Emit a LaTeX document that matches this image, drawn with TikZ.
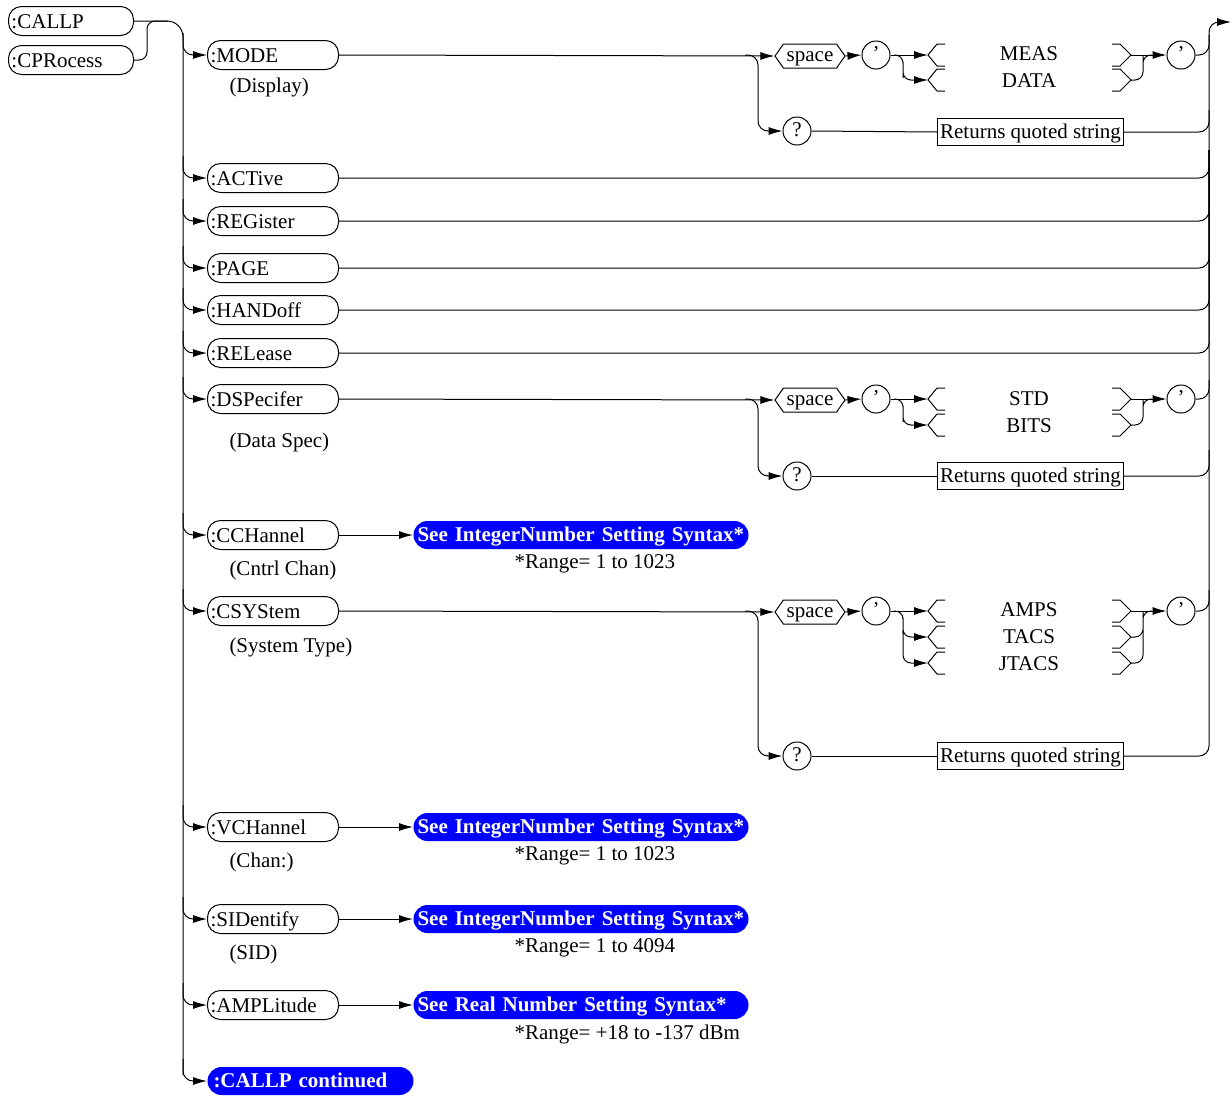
\documentclass[tikz,border=0pt]{standalone}
\usepackage{fontspec}
\setmainfont{Liberation Serif}
\usetikzlibrary{arrows.meta,shapes.symbols}
\newcommand\choiceL[2]{\draw (945,#1-11) -- (937,#1-11) -- (928,#1) -- (937,#1+11) -- (945,#1+11);\coordinate (#2) at (928,#1);}
\newcommand\choiceR[2]{\draw (1112,#1-11) -- (1120,#1-11) -- (1131,#1) -- (1120,#1+11) -- (1112,#1+11);\coordinate (#2) at (1131,#1);}
\tikzset{
 every node/.style={font=\fontsize{21}{24}\selectfont},
 cmd/.style={draw, rounded corners=13pt, minimum height=29pt, text width=125pt, align=left, inner xsep=3pt, inner ysep=0pt, text height=17pt, text depth=2pt, anchor=west},
 top/.style={cmd, text width=119pt},
 arr/.style={-{Latex[length=14pt,width=8pt]}},
 sp/.style={draw, signal, signal to=west and east, signal pointer angle=110, minimum width=70pt, minimum height=24pt, inner xsep=2pt, inner ysep=0pt, text height=14pt, text depth=3pt},
 rc/.style={draw, circle, minimum size=28pt, inner sep=0pt, text height=14pt, text depth=4pt},
 ret/.style={draw, rectangle, inner xsep=2.5pt, minimum height=27pt, inner ysep=0pt, text height=16pt, text depth=4pt},
 bluebox/.style={fill=blue, text=white, rounded corners=14pt, minimum height=28pt, text width=327pt, align=left, inner xsep=4pt, inner ysep=0pt, anchor=west, font=\fontsize{21}{24}\selectfont\bfseries, text height=16pt, text depth=3pt},
 contbox/.style={bluebox, text width=194pt, inner xsep=6pt},
 lbl/.style={anchor=west, inner sep=0pt},
 opt/.style={anchor=center, inner sep=0pt},
}
\begin{document}
\begin{tikzpicture}[x=1pt,y=-1pt,line width=1pt]
\useasboundingbox (0,0) rectangle (1232,1096);
% left commands
\node[top] (callp) at (8,21) {:CALLP};
\node[top] (cproc) at (8,60) {:CPRocess};
\draw[rounded corners=16pt] (callp.east) -| (183,1075);
\draw[rounded corners=8pt] (cproc.east) -| (147,35) |- (168,21);
% main commands
\node[cmd] (mode) at (207,55) {:MODE};
\node[cmd] (act) at (207,178) {:ACTive};
\node[cmd] (reg) at (207,221) {:REGister};
\node[cmd] (page) at (207,268) {:PAGE};
\node[cmd] (hand) at (207,310) {:HANDoff};
\node[cmd] (rel) at (207,353) {:RELease};
\node[cmd] (dsp) at (207,399) {:DSPecifer};
\node[cmd] (cch) at (207,535) {:CCHannel};
\node[cmd] (csys) at (207,611) {:CSYStem};
\node[cmd] (vch) at (207,827) {:VCHannel};
\node[cmd] (sid) at (207,919) {:SIDentify};
\node[cmd] (amp) at (207,1005) {:AMPLitude};
\node[contbox] (cont) at (207,1081) {:CALLP continued};
\foreach \n/\y in {mode/55,act/178,reg/221,page/268,hand/310,rel/353,dsp/399,cch/535,csys/611,vch/827,sid/919,amp/1005,cont/1081}
  \draw[arr, rounded corners=10pt] (183,\y-22) |- (\n.west);
% sub labels
\node[lbl] (l1) at (229,87) {(Display)};
\node[lbl] (l2) at (229,442) {(Data Spec)};
\node[lbl] (l3) at (229,570) {(Cntrl Chan)};
\node[lbl] (l4) at (229,647) {(System Type)};
\node[lbl] (l5) at (229,862) {(Chan:)};
\node[lbl] (l6) at (229,954) {(SID)};
% right bus
\coordinate (out) at (1231,22);
\node[ret] (ret3) at (1030.5,756) {Returns quoted string};
\draw[arr, rounded corners=10pt] (ret3.east) -- (1209,756) -- (1209,22) -- (out);
% simple ones
\foreach \n in {act,reg,page,hand,rel}
  \draw[rounded corners=10pt] (\n.east) -| (1209,150);
% MODE
\node[sp] (sp1) at (810,56) {space};
\node[rc] (qa1) at (876,55) {'};
\node[rc] (qb1) at (1181,55) {'};
\node[rc] (qm1) at (797,131) {?};
\node[ret] (ret1) at (1030.5,132) {Returns quoted string};
\choiceL{55}{a1}\choiceL{80}{a2}
\choiceR{55}{b1}\choiceR{80}{b2}
\node[opt] (o11) at (1029,54) {MEAS};
\node[opt] (o12) at (1029,81) {DATA};
\draw[arr] (mode.east) -- (sp1.west);
\draw[arr, rounded corners=10pt] (745,55) -| (758,90) |- (qm1.west);
\draw[arr] (sp1.east) -- (qa1.west);
\draw[arr] (qa1.east) -- (a1);
\draw[arr, rounded corners=8pt] (894,55) -| (903,70) |- (a2);
\draw[arr] (b1) -- (qb1.west);
\draw[rounded corners=8pt] (b2) -| (1143,64) |- (1152,55);
\draw[rounded corners=10pt] (qb1.east) -| (1209,35);
\draw (qm1.east) -- (ret1.west);
\draw[rounded corners=10pt] (ret1.east) -| (1209,110);
% DSPecifer
\node[sp] (sp2) at (810,400) {space};
\node[rc] (qa2) at (876,399) {'};
\node[rc] (qb2) at (1181,399) {'};
\node[rc] (qm2) at (797,476) {?};
\node[ret] (ret2) at (1030.5,476) {Returns quoted string};
\choiceL{399}{c1}\choiceL{425}{c2}
\choiceR{399}{d1}\choiceR{425}{d2}
\node[opt] (o21) at (1029,399) {STD};
\node[opt] (o22) at (1029,426) {BITS};
\draw[arr] (dsp.east) -- (sp2.west);
\draw[arr, rounded corners=10pt] (745,399) -| (758,440) |- (qm2.west);
\draw[arr] (sp2.east) -- (qa2.west);
\draw[arr] (qa2.east) -- (c1);
\draw[arr, rounded corners=8pt] (894,399) -| (903,414) |- (c2);
\draw[arr] (d1) -- (qb2.west);
\draw[rounded corners=8pt] (d2) -| (1143,408) |- (1152,399);
\draw[rounded corners=10pt] (qb2.east) -| (1209,380);
\draw (qm2.east) -- (ret2.west);
\draw[rounded corners=10pt] (ret2.east) -| (1209,450);
% CSYStem
\node[sp] (sp3) at (810,612) {space};
\node[rc] (qa3) at (876,611) {'};
\node[rc] (qb3) at (1181,611) {'};
\node[rc] (qm3) at (797,756) {?};
\choiceL{611}{e1}\choiceL{637}{e2}\choiceL{663}{e3}
\choiceR{611}{f1}\choiceR{637}{f2}\choiceR{663}{f3}
\node[opt] (o31) at (1029,610) {AMPS};
\node[opt] (o32) at (1029,637) {TACS};
\node[opt] (o33) at (1029,664) {JTACS};
\draw[arr] (csys.east) -- (sp3.west);
\draw[arr, rounded corners=10pt] (745,611) -| (758,700) |- (qm3.west);
\draw[arr] (sp3.east) -- (qa3.west);
\draw[arr] (qa3.east) -- (e1);
\draw[arr, rounded corners=8pt] (894,611) -| (903,626) |- (e2);
\draw[arr, rounded corners=8pt] (903,630) |- (e3);
\draw[arr] (f1) -- (qb3.west);
\draw[rounded corners=8pt] (f2) -| (1143,620) |- (1152,611);
\draw[rounded corners=8pt] (f3) -| (1143,630);
\draw[rounded corners=10pt] (qb3.east) -| (1209,590);
\draw (qm3.east) -- (ret3.west);
% blue boxes
\node[bluebox] (b1x) at (413,535) {See IntegerNumber Setting Syntax*};
\node[bluebox] (b2x) at (413,827) {See IntegerNumber Setting Syntax*};
\node[bluebox] (b3x) at (413,919) {See IntegerNumber Setting Syntax*};
\node[bluebox] (b4x) at (413,1005) {See Real Number Setting Syntax*};
\draw[arr] (cch.east) -- (b1x.west);
\draw[arr] (vch.east) -- (b2x.west);
\draw[arr] (sid.east) -- (b3x.west);
\draw[arr] (amp.east) -- (b4x.west);
\node[lbl] (r1) at (514,564) {*Range= 1 to 1023};
\node[lbl] (r2) at (514,856) {*Range= 1 to 1023};
\node[lbl] (r3) at (514,948) {*Range= 1 to 4094};
\node[lbl] (r4) at (514,1034) {*Range= +18 to -137 dBm};
\end{tikzpicture}
\end{document}
